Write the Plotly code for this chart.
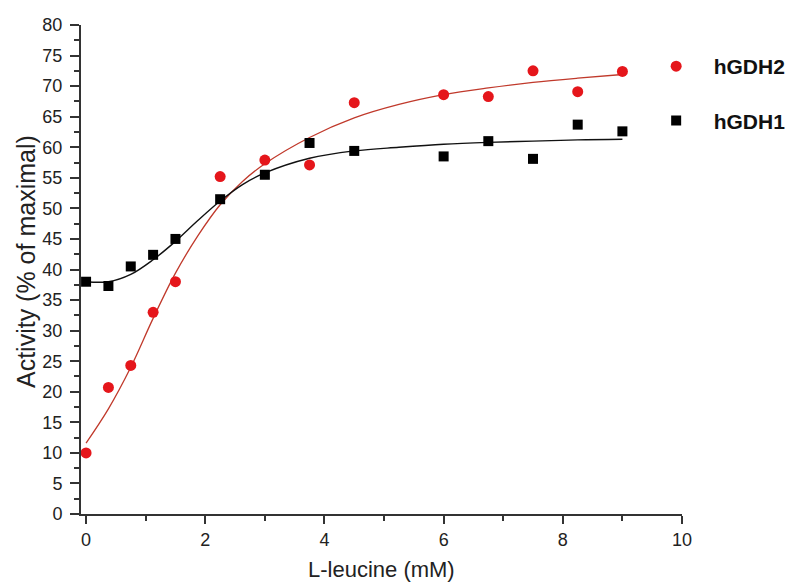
import plotly.graph_objects as go

# Measured data
leucine = [0, 0.375, 0.75, 1.125, 1.5, 2.25, 3, 3.75, 4.5, 6, 6.75, 7.5, 8.25, 9]
hgdh2 = [10, 20.7, 24.3, 33, 38, 55.2, 57.9, 57.1, 67.3, 68.6, 68.3, 72.5, 69.1, 72.4]
hgdh1 = [38, 37.3, 40.5, 42.4, 45, 51.5, 55.5, 60.7, 59.4, 58.5, 61, 58.1, 63.7, 62.6]

# Fitted curves
fit_x = [0, 0.375, 0.75, 1.125, 1.5, 1.875, 2.25, 2.625, 3, 3.75, 4.5, 5.25, 6, 6.75, 7.5, 8.25, 9]
fit_hgdh2 = [11.6, 17.2, 24.0, 32.0, 39.4, 45.5, 50.6, 54.4, 57.3, 61.6, 64.8, 67.0, 68.6, 69.7, 70.6, 71.3, 71.9]
fit_hgdh1 = [38.0, 38.0, 39.2, 41.6, 44.6, 48.0, 51.2, 53.9, 55.8, 58.2, 59.4, 60.0, 60.5, 60.8, 61.0, 61.2, 61.3]

FONT = "Liberation Sans, Arial, sans-serif"
RED = "#e5161b"
DARKRED = "#c0392b"
NB = "\u00a0\u00a0\u00a0"

fig = go.Figure()
fig.add_trace(go.Scatter(x=fit_x, y=fit_hgdh2, mode="lines", line=dict(color=DARKRED, width=1.3, shape="spline", smoothing=1.0), showlegend=False, hoverinfo="skip"))
fig.add_trace(go.Scatter(x=fit_x, y=fit_hgdh1, mode="lines", line=dict(color="#111111", width=1.4, shape="spline", smoothing=1.0), showlegend=False, hoverinfo="skip"))
fig.add_trace(go.Scatter(x=leucine, y=hgdh2, mode="markers", name=NB + "hGDH2", legendgroup="a",
                         marker=dict(symbol="circle", size=11, color=RED, line=dict(width=0))))
fig.add_trace(go.Scatter(x=leucine, y=hgdh1, mode="markers", name=NB + "hGDH1", legendgroup="b",
                         marker=dict(symbol="square", size=10, color="#000000", line=dict(width=0))))

axis_common = dict(showgrid=False, zeroline=False, showline=True, linecolor="#333333", linewidth=2,
                   ticks="outside", tickcolor="#333333", tickwidth=1.5,
                   tickfont=dict(family=FONT, size=18, color="#222222"))

fig.update_xaxes(range=[-0.085, 10], dtick=2, tick0=0, ticklen=8,
                 minor=dict(dtick=1, ticks="outside", ticklen=5, tickcolor="#333333", tickwidth=1.5),
                 **axis_common)
fig.update_yaxes(range=[0, 80], dtick=5, tick0=0, ticklen=9, ticklabelstandoff=4,
                 minor=dict(dtick=2.5, ticks="outside", ticklen=5, tickcolor="#333333", tickwidth=1.5),
                 **axis_common)

fig.add_annotation(text="L-leucine (mM)", xref="paper", yref="paper", x=0.5, y=-55/489,
                   xanchor="center", yanchor="middle", showarrow=False,
                   font=dict(family=FONT, size=22, color="#222222"))
fig.add_annotation(text="Activity (% of maximal)", xref="paper", yref="paper", x=-55/601, y=252/489,
                   xanchor="center", yanchor="middle", textangle=-90, showarrow=False,
                   font=dict(family=FONT, size=25, color="#222222"))

fig.update_layout(
    width=786, height=583,
    margin=dict(l=81, r=104, t=25, b=69, autoexpand=False),
    plot_bgcolor="white", paper_bgcolor="white",
    legend=dict(x=0.957, xanchor="left", y=0.957, yanchor="top",
                font=dict(family=FONT, size=21, color="#111111", weight="bold"),
                tracegroupgap=24, itemsizing="trace", bgcolor="rgba(0,0,0,0)"),
)

fig.write_html("out.html")
